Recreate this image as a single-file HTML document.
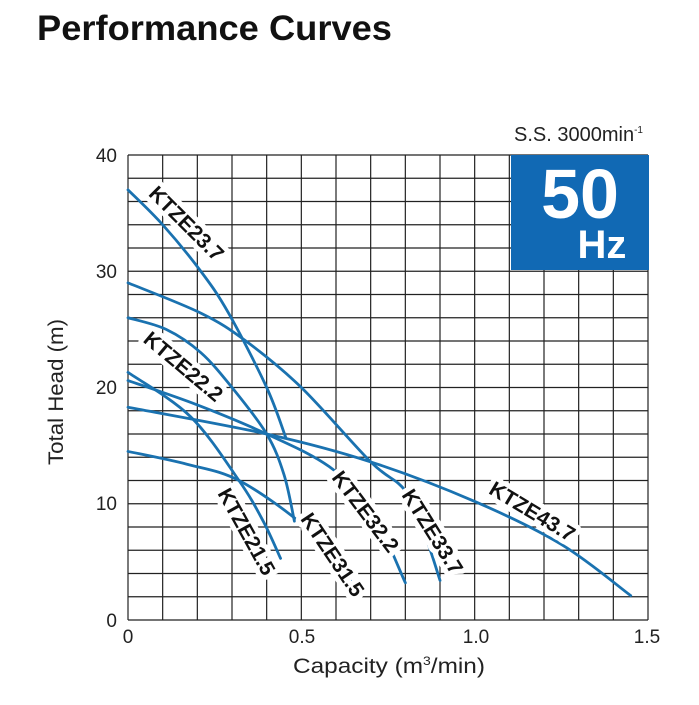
<!DOCTYPE html>
<html><head><meta charset="utf-8"><style>
body{margin:0;background:#fff;width:699px;height:700px;overflow:hidden;font-family:"Liberation Sans",Arial,sans-serif}
</style></head><body>
<svg id="s" width="699" height="700" xmlns="http://www.w3.org/2000/svg" font-family="Liberation Sans, Arial, sans-serif">
<text x="37" y="40" font-size="35" font-weight="bold" fill="#111" textLength="355" lengthAdjust="spacingAndGlyphs">Performance Curves</text>
<g id="grid" stroke="#222" stroke-width="1.2"></g>
<rect x="511" y="155" width="138" height="115" fill="#1169b4"/>
<text x="580" y="218" font-size="70" font-weight="bold" fill="#fff" text-anchor="middle">50</text>
<text x="602" y="258" font-size="40" font-weight="bold" fill="#fff" text-anchor="middle">Hz</text>
<text x="643" y="141" font-size="20" fill="#222" text-anchor="end">S.S. 3000min<tspan font-size="10" dy="-8">-1</tspan></text>
<g id="curves" fill="none" stroke="#1a72b0" stroke-width="2.8" stroke-linecap="round"></g>
<g font-size="21" font-weight="bold" fill="#111" id="labels"></g>
<g font-size="19" fill="#222" text-anchor="middle">
<text x="128" y="643">0</text><text x="302" y="643">0.5</text><text x="476" y="643">1.0</text><text x="647" y="643">1.5</text>
</g>
<g font-size="19" fill="#222" text-anchor="end">
<text x="117" y="627">0</text><text x="117" y="510">10</text><text x="117" y="394">20</text><text x="117" y="278">30</text><text x="117" y="162">40</text>
</g>
<text x="293" y="673" font-size="21" fill="#222" textLength="192" lengthAdjust="spacingAndGlyphs">Capacity (m<tspan font-size="12" dy="-8">3</tspan><tspan dy="8">/min)</tspan></text>
<text transform="translate(63,392) rotate(-90)" font-size="21" fill="#222" text-anchor="middle" textLength="146" lengthAdjust="spacingAndGlyphs">Total Head (m)</text>
</svg>
<script>
var NS="http://www.w3.org/2000/svg";
var g=document.getElementById('grid');
function ln(p,x1,y1,x2,y2){var l=document.createElementNS(NS,'line');l.setAttribute('x1',x1);l.setAttribute('y1',y1);l.setAttribute('x2',x2);l.setAttribute('y2',y2);p.appendChild(l);}
for(var i=0;i<=15;i++){var x=128+i*520/15;ln(g,x,155,x,620);}
for(var j=0;j<=20;j++){var y=155+j*465/20;ln(g,128,y,648,y);}
function X(q){return 128+q*346.7}function Y(h){return 620-h*11.625}
var C={
a:[[0,37],[0.1,34],[0.21,30],[0.29,26.4],[0.4,20],[0.455,15.7]],
b:[[0,29],[0.21,26.4],[0.34,24],[0.5,20],[0.7,13.6],[0.8,11.1],[0.86,7],[0.9,3.4]],
c:[[0,26],[0.11,25],[0.21,23],[0.3,20],[0.4,16],[0.45,12.5],[0.48,8.5]],
d:[[0,21.3],[0.18,17.5],[0.32,12],[0.39,8.5],[0.44,5.3]],
e:[[0,20.6],[0.2,18.5],[0.4,16],[0.58,13.2],[0.7,9.5],[0.8,3.2]],
f:[[0,18.3],[0.4,16],[0.7,13.6],[1.0,10.2],[1.25,6.5],[1.45,2.1]],
h:[[0,14.5],[0.17,13.4],[0.32,12],[0.5,8.3],[0.6,5],[0.67,2.2]]};
var cg=document.getElementById('curves');
for(var k in C){var p=C[k].map(function(a){return[X(a[0]),Y(a[1])]});
var d='M'+p[0][0]+','+p[0][1];
for(var i=0;i<p.length-1;i++){var p0=p[i-1]||p[i],p1=p[i],p2=p[i+1],p3=p[i+2]||p2;
d+=' C'+(p1[0]+(p2[0]-p0[0])/6)+','+(p1[1]+(p2[1]-p0[1])/6)+' '+(p2[0]-(p3[0]-p1[0])/6)+','+(p2[1]-(p3[1]-p1[1])/6)+' '+p2[0]+','+p2[1];}
var e=document.createElementNS(NS,'path');e.setAttribute('d',d);cg.appendChild(e);}
var L=[["KTZE23.7",186,224,45],["KTZE22.2",183,367,40],["KTZE21.5",246,532,61],["KTZE31.5",332,555,56],["KTZE32.2",365,512,53],["KTZE33.7",432,532,58],["KTZE43.7",532,512,31]];
var lg=document.getElementById('labels');
L.forEach(function(a){var t=document.createElementNS(NS,'text');t.textContent=a[0];t.setAttribute('text-anchor','middle');t.setAttribute('dominant-baseline','central');
t.setAttribute('transform','translate('+a[1]+','+a[2]+') rotate('+a[3]+')');
t.setAttribute('stroke','#fff');t.setAttribute('stroke-width','10');t.setAttribute('stroke-linejoin','round');t.setAttribute('paint-order','stroke');lg.appendChild(t);});
</script>
</body></html>
